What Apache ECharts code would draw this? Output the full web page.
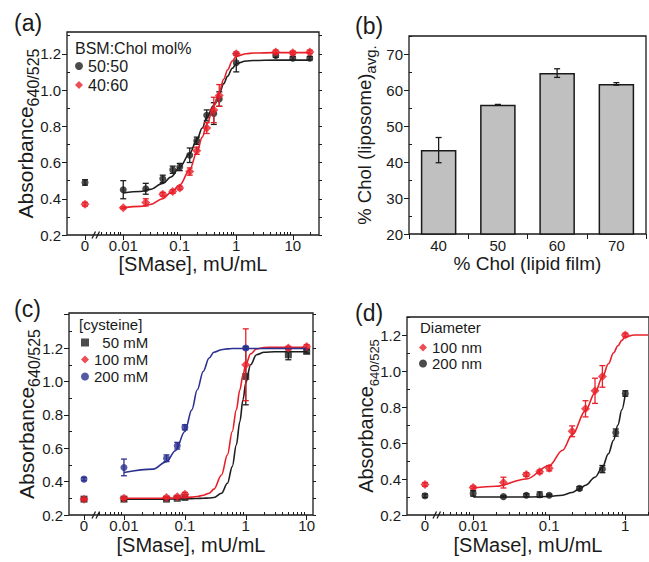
<!DOCTYPE html>
<html>
<head>
<meta charset="utf-8">
<script src="https://cdn.jsdelivr.net/npm/echarts@6/dist/echarts.min.js"></script>
<style>
  html, body { margin: 0; padding: 0; background: #fff; }
  #chart { width: 649px; height: 562px; }
</style>
</head>
<body>
<div id="chart"></div>
<script>
// ---------- data ----------
// (a) BSM:Chol mol%
const concA = [0.01, 0.025, 0.05, 0.075, 0.1, 0.15, 0.2, 0.3, 0.4, 0.5, 1, 5, 10, 20];
const absA5050 = [0.45, 0.455, 0.51, 0.56, 0.575, 0.64, 0.72, 0.86, 0.87, 0.95, 1.15, 1.19, 1.175, 1.175];
const errA5050 = [0.05, 0.03, 0.02, 0.02, 0.02, 0.04, 0.02, 0.03, 0.06, 0.04, 0.05, 0.01, 0.01, 0.01];
const absA4060 = [0.35, 0.38, 0.425, 0.44, 0.46, 0.55, 0.665, 0.79, 0.89, 0.97, 1.2, 1.21, 1.205, 1.21];
const errA4060 = [0.005, 0.02, 0.01, 0.01, 0.01, 0.02, 0.02, 0.03, 0.07, 0.06, 0.01, 0.01, 0.01, 0.01];
const zeroA5050 = [0.49, 0.015];
const zeroA4060 = [0.37, 0.01];
const fitConcA = [0.01, 0.02, 0.03, 0.05, 0.07, 0.1, 0.15, 0.2, 0.25, 0.3, 0.4, 0.5, 0.6, 0.7, 0.85, 1, 1.5, 2, 5, 20];
const fitA5050 = [0.432, 0.44, 0.452, 0.485, 0.52, 0.575, 0.65, 0.725, 0.79, 0.85, 0.915, 0.98, 1.035, 1.075, 1.12, 1.145, 1.16, 1.163, 1.165, 1.165];
const fitA4060 = [0.35, 0.358, 0.368, 0.40, 0.435, 0.476, 0.56, 0.655, 0.74, 0.81, 0.91, 0.99, 1.06, 1.11, 1.16, 1.185, 1.2, 1.204, 1.206, 1.206];

// (b) bars
const cholFilm = ['40', '50', '60', '70'];
const cholLipo = [43.3, 55.9, 64.7, 61.7];
const cholErr = [3.5, 0.1, 1.2, 0.35];

// (c) cysteine
const concC = [0.01, 0.05, 0.075, 0.1, 1, 5, 10];
const absC50 = [0.295, 0.295, 0.30, 0.305, 1.03, 1.16, 1.18];
const errC50 = [0.01, 0.005, 0.005, 0.005, 0.17, 0.03, 0.01];
const absC100 = [0.30, 0.305, 0.31, 0.325, 1.10, 1.20, 1.21];
const errC100 = [0.005, 0.005, 0.005, 0.01, 0.215, 0.01, 0.01];
const concC200 = [0.01, 0.05, 0.075, 0.1, 1];
const absC200 = [0.485, 0.54, 0.615, 0.725, 1.2];
const errC200 = [0.05, 0.02, 0.02, 0.015, 0.01];
const zeroC50 = [0.295, 0.01];
const zeroC100 = [0.295, 0.005];
const zeroC200 = [0.415, 0.01];
const fitConcC = [0.01, 0.03, 0.05, 0.07, 0.1, 0.13, 0.16, 0.2, 0.25, 0.3, 0.4, 0.5, 0.6, 0.7, 0.8, 0.9, 1, 1.2, 1.5, 2, 3, 10];
const fitC50 = [0.295, 0.295, 0.295, 0.296, 0.297, 0.298, 0.299, 0.300, 0.302, 0.305, 0.33, 0.39, 0.49, 0.62, 0.76, 0.89, 0.99, 1.10, 1.16, 1.175, 1.178, 1.178];
const fitC100 = [0.300, 0.300, 0.301, 0.302, 0.304, 0.307, 0.311, 0.318, 0.33, 0.355, 0.44, 0.56, 0.70, 0.83, 0.95, 1.04, 1.10, 1.165, 1.195, 1.203, 1.205, 1.205];
const fitC200 = [0.455, 0.475, 0.52, 0.585, 0.70, 0.83, 0.95, 1.06, 1.14, 1.175, 1.19, 1.195, 1.197, 1.197, 1.197, 1.197, 1.197, 1.197, 1.197, 1.197, 1.197, 1.197];

// (d) diameter
const concD100 = [0.01, 0.025, 0.05, 0.075, 0.1, 0.2, 0.3, 0.4, 0.5, 1];
const absD100 = [0.353, 0.38, 0.425, 0.44, 0.46, 0.665, 0.79, 0.89, 0.97, 1.2];
const errD100 = [0.008, 0.03, 0.01, 0.01, 0.015, 0.03, 0.045, 0.07, 0.06, 0.01];
const concD200 = [0.01, 0.025, 0.05, 0.075, 0.1, 0.25, 0.5, 0.75, 1];
const absD200 = [0.32, 0.302, 0.31, 0.313, 0.31, 0.348, 0.455, 0.658, 0.875];
const errD200 = [0.015, 0.005, 0.008, 0.015, 0.005, 0.01, 0.02, 0.02, 0.015];
const zeroD100 = [0.37, 0.01];
const zeroD200 = [0.307, 0.01];
const fitConcD100 = [0.01, 0.02, 0.05, 0.1, 0.15, 0.2, 0.3, 0.4, 0.5, 0.6, 0.7, 0.8, 0.9, 1, 1.3, 1.6, 2];
const fitD100 = [0.35, 0.36, 0.40, 0.475, 0.56, 0.645, 0.78, 0.88, 0.965, 1.04, 1.10, 1.14, 1.17, 1.19, 1.2, 1.2, 1.2];
const fitConcD200 = [0.01, 0.05, 0.1, 0.15, 0.2, 0.25, 0.3, 0.4, 0.5, 0.6, 0.7, 0.8, 0.9, 1];
const fitD200 = [0.30, 0.30, 0.303, 0.31, 0.325, 0.345, 0.365, 0.41, 0.465, 0.54, 0.615, 0.70, 0.785, 0.873];

// tick labels
const logTicks = [0.01, 0.1, 1, 10];
const absTicks = [0.2, 0.4, 0.6, 0.8, 1.0, 1.2];
const barTicks = [20, 30, 40, 50, 60, 70];

// ---------- helpers ----------
const FONT = '"Liberation Sans", Arial, sans-serif';
const INK = '#1a1a1a';
const RED = '#e8202a';
const BLACK = '#1e1e1e';
const BLUE = '#2b3190';

const grid = [], xAxis = [], yAxis = [], series = [], title = [], legend = [], graphic = [];
const push = (arr, o) => { arr.push(o); return arr.length - 1; };

const hidden = () => ({
  axisLine: { show: false, onZero: false },
  axisTick: { show: false },
  axisLabel: { show: false },
  splitLine: { show: false }
});
const ticks = (values, len, inside) => ({
  show: true, customValues: values, length: len, inside: inside,
  lineStyle: { color: INK, width: 1 }
});
const lbl = (values, fmt, margin) => ({
  show: true, customValues: values, fontSize: 15, lineHeight: 12, color: INK, fontFamily: FONT,
  margin: margin || 4, formatter: fmt
});
const subRich = (main, sub) => ({
  m: { fontSize: main, lineHeight: main + 5, verticalAlign: 'top', fontFamily: FONT, color: INK },
  s: { fontSize: sub, lineHeight: sub + 2, verticalAlign: 'bottom', fontFamily: FONT, color: INK }
});
const fmtNum = v => String(+(+v).toPrecision(3));

function range(a, b, step) {
  const out = [];
  for (let v = a; v <= b + 1e-9; v += step) out.push(+v.toFixed(3));
  return out;
}
function logMinor(min, max) {
  const out = [];
  for (let d = -3; d <= 2; d++) {
    for (let k = 2; k <= 9; k++) {
      const v = +(k * Math.pow(10, d)).toPrecision(3);
      if (v > min && v < max) out.push(v);
    }
  }
  return out;
}

function frame(box, xName, xSize, xGap, yName, rich, yGap) {
  const g = push(grid, {
    left: box.l, top: box.t, width: box.r - box.l, height: box.b - box.t,
    show: true, borderColor: INK, borderWidth: 1.3, backgroundColor: 'rgba(0,0,0,0)'
  });
  push(xAxis, Object.assign({ gridIndex: g, type: 'value', min: 0, max: 1 }, hidden(), {
    name: xName, nameLocation: 'middle', nameGap: xGap,
    nameTextStyle: { fontSize: xSize, lineHeight: 16, color: INK, fontFamily: FONT }
  }));
  push(yAxis, Object.assign({ gridIndex: g, type: 'value', min: 0, max: 1 }, hidden(), {
    name: yName, nameLocation: 'middle', nameGap: yGap, nameRotate: 90,
    nameTextStyle: { color: INK, fontFamily: FONT, rich }
  }));
  return g;
}

function logPanel(p) {
  const { l, t, r, b } = p.box;
  frame(p.box, '[SMase], mU/mL', 20, p.xGap, '{m|Absorbance}{s|640/525}', subRich(p.yFont[0], p.yFont[1]), p.yGap);
  const yMajor = range(0.2, p.yMax, 0.2);
  const yMinor = range(0.3, p.yMax, 0.2);
  const yAll = range(0.2, p.yMax, 0.1);
  // zero section
  const gz = push(grid, { left: l, top: t, width: p.split - l, height: b - t });
  const zx = push(xAxis, Object.assign({ gridIndex: gz, type: 'value', min: p.zero[0], max: p.zero[1], position: 'bottom' }, hidden(), {
    axisTick: ticks([0], 5, false), axisLabel: lbl([0], () => '0')
  }));
  const zy = push(yAxis, Object.assign({ gridIndex: gz, type: 'value', min: 0.2, max: p.yMax, position: 'left' }, hidden(), {
    axisTick: ticks(yMajor, 5, false), axisLabel: lbl(absTicks, v => (+v).toFixed(1), 6)
  }));
  push(yAxis, Object.assign({ gridIndex: gz, type: 'value', min: 0.2, max: p.yMax, position: 'left' }, hidden(), {
    axisTick: ticks(yMinor, 3, true)
  }));
  // log section
  const gl = push(grid, { left: p.split, top: t, width: r - p.split, height: b - t });
  const lx = push(xAxis, Object.assign({ gridIndex: gl, type: 'log', min: p.x[0], max: p.x[1], position: 'bottom' }, hidden(), {
    axisTick: ticks(p.xTicks, 5, false), axisLabel: lbl(p.xTicks, fmtNum)
  }));
  push(xAxis, Object.assign({ gridIndex: gl, type: 'log', min: p.x[0], max: p.x[1], position: 'bottom' }, hidden(), {
    axisTick: ticks(logMinor(p.x[0], p.x[1]), 3, true)
  }));
  const ly = push(yAxis, Object.assign({ gridIndex: gl, type: 'value', min: 0.2, max: p.yMax, position: 'right' }, hidden(), {
    axisTick: ticks(yAll, 3, false)
  }));
  // axis break
  graphic.push({ type: 'line', shape: { x1: p.split - 5, y1: b + 3.5, x2: p.split - 1.5, y2: b - 3.5 }, style: { stroke: INK, lineWidth: 1.2 } });
  graphic.push({ type: 'line', shape: { x1: p.split - 1, y1: b + 3.5, x2: p.split + 2.5, y2: b - 3.5 }, style: { stroke: INK, lineWidth: 1.2 } });
  return { zx, zy, lx, ly };
}

function errorBar(params, api) {
  const x = api.value(0), y = api.value(1), e = api.value(2);
  const hi = api.coord([x, y + e]), lo = api.coord([x, y - e]);
  const w = 3;
  const st = { stroke: api.visual('color'), lineWidth: 1.3 };
  return {
    type: 'group', children: [
      { type: 'line', shape: { x1: hi[0], y1: hi[1], x2: lo[0], y2: lo[1] }, style: st },
      { type: 'line', shape: { x1: hi[0] - w, y1: hi[1], x2: hi[0] + w, y2: hi[1] }, style: st },
      { type: 'line', shape: { x1: lo[0] - w, y1: lo[1], x2: lo[0] + w, y2: lo[1] }, style: st }
    ]
  };
}

function group(ax, g) {
  const pts = g.conc.map((c, i) => [c, g.vals[i]]);
  const errs = g.conc.map((c, i) => [c, g.vals[i], g.errs[i]]);
  const common = { itemStyle: { color: g.color }, z: g.z, silent: true };
  if (g.fitConc) {
    series.push(Object.assign({
      type: 'line', name: g.name + ' fit', xAxisIndex: ax.lx, yAxisIndex: ax.ly,
      data: g.fitConc.map((c, i) => [c, g.fit[i]]), showSymbol: false, smooth: 0.35,
      smoothMonotone: 'x', lineStyle: { color: g.color, width: 1.6 }
    }, common));
  }
  series.push(Object.assign({
    type: 'custom', name: g.name + ' err', xAxisIndex: ax.lx, yAxisIndex: ax.ly,
    renderItem: errorBar, encode: { x: 0, y: 1 }, data: errs
  }, common));
  series.push(Object.assign({
    type: 'scatter', name: g.name, xAxisIndex: ax.lx, yAxisIndex: ax.ly,
    data: pts, symbol: g.symbol, symbolSize: g.size
  }, common));
  series.push(Object.assign({
    type: 'custom', name: g.name + ' err0', xAxisIndex: ax.zx, yAxisIndex: ax.zy,
    renderItem: errorBar, encode: { x: 0, y: 1 }, data: [[0, g.zero[0], g.zero[1]]]
  }, common));
  series.push(Object.assign({
    type: 'scatter', name: g.name, xAxisIndex: ax.zx, yAxisIndex: ax.zy,
    data: [[0, g.zero[0]]], symbol: g.symbol, symbolSize: g.size
  }, common));
}

const panelTitle = (text, left, top) => title.push({
  text, left, top, padding: 0,
  textStyle: { fontSize: 23, fontWeight: 'normal', color: INK, fontFamily: FONT }
});
const headTitle = (text, left, top, size) => title.push({
  text, left, top, padding: 0,
  textStyle: { fontSize: size, fontWeight: 'normal', color: INK, fontFamily: FONT }
});
const addLegend = (names, left, top, size, gap, fmt) => legend.push({
  data: names, orient: 'vertical', left, top, padding: 0, itemGap: gap,
  itemWidth: 8, itemHeight: 8, selectedMode: false, formatter: fmt,
  textStyle: { fontSize: size, lineHeight: size, color: INK, fontFamily: FONT }
});

// ---------- panel (a) ----------
const axA = logPanel({
  box: { l: 67, t: 32, r: 319, b: 235 }, split: 97, zero: [-0.6, 0.4],
  x: [0.00343, 29.1], xTicks: logTicks, yMax: 1.32, xGap: 21, yGap: 26, yFont: [21, 16]
});
group(axA, { name: '50:50', color: BLACK, symbol: 'circle', size: 7, z: 3, conc: concA, vals: absA5050, errs: errA5050, zero: zeroA5050, fitConc: fitConcA, fit: fitA5050 });
group(axA, { name: '40:60', color: RED, symbol: 'diamond', size: 9, z: 4, conc: concA, vals: absA4060, errs: errA4060, zero: zeroA4060, fitConc: fitConcA, fit: fitA4060 });
panelTitle('(a)', 14, 11);
headTitle('BSM:Chol mol%', 75, 40, 16);
addLegend(['50:50', '40:60'], 75, 58, 16, 3);

// ---------- panel (b) ----------
const gb = push(grid, { left: 409, top: 36, width: 237, height: 198, show: true, borderColor: INK, borderWidth: 1.3, backgroundColor: 'rgba(0,0,0,0)' });
const bx = push(xAxis, Object.assign({ gridIndex: gb, type: 'category', data: cholFilm }, hidden(), {
  axisTick: { show: true, alignWithLabel: false, length: 5, lineStyle: { color: INK, width: 1 } },
  axisLabel: { show: true, fontSize: 15, lineHeight: 12, color: INK, fontFamily: FONT, margin: 5 },
  name: '% Chol (lipid film)', nameLocation: 'middle', nameGap: 21,
  nameTextStyle: { fontSize: 19, lineHeight: 16, color: INK, fontFamily: FONT }
}));
const by = push(yAxis, Object.assign({ gridIndex: gb, type: 'value', min: 20, max: 75, position: 'left' }, hidden(), {
  axisTick: ticks(barTicks, 5, false), axisLabel: lbl(barTicks, undefined, 6),
  name: '{m|% Chol (liposome)}{s|avg.}', nameLocation: 'middle', nameGap: 31, nameRotate: 90,
  nameTextStyle: { color: INK, fontFamily: FONT, rich: subRich(18.5, 15) }
}));
push(yAxis, Object.assign({ gridIndex: gb, type: 'value', min: 20, max: 75, position: 'left' }, hidden(), {
  axisTick: ticks([25, 35, 45, 55, 65, 75], 3, true)
}));
series.push({
  type: 'bar', name: 'liposome', xAxisIndex: bx, yAxisIndex: by, data: cholLipo, barWidth: '60%',
  itemStyle: { color: '#c0c0c0', borderColor: INK, borderWidth: 1.5 }, silent: true
});
series.push({
  type: 'custom', name: 'liposome err', xAxisIndex: bx, yAxisIndex: by, renderItem: errorBar,
  encode: { x: 0, y: 1 }, data: cholFilm.map((c, i) => [c, cholLipo[i], cholErr[i]]),
  itemStyle: { color: INK }, z: 5, silent: true
});
panelTitle('(b)', 355, 14);

// ---------- panel (c) ----------
const axC = logPanel({
  box: { l: 69, t: 313, r: 313, b: 515 }, split: 97, zero: [-0.536, 0.464],
  x: [0.00361, 12.7], xTicks: logTicks, yMax: 1.41, xGap: 22, yGap: 27, yFont: [21, 16]
});
group(axC, { name: '50 mM', color: BLACK, symbol: 'rect', size: 7, z: 3, conc: concC, vals: absC50, errs: errC50, zero: zeroC50, fitConc: fitConcC, fit: fitC50 });
group(axC, { name: '100 mM', color: RED, symbol: 'diamond', size: 9, z: 4, conc: concC, vals: absC100, errs: errC100, zero: zeroC100, fitConc: fitConcC, fit: fitC100 });
group(axC, { name: '200 mM', color: BLUE, symbol: 'circle', size: 7, z: 5, conc: concC200, vals: absC200, errs: errC200, zero: zeroC200, fitConc: fitConcC, fit: fitC200 });
panelTitle('(c)', 14, 297);
headTitle('[cysteine]', 79, 317, 15);
addLegend(['50 mM', '100 mM', '200 mM'], 81, 335, 15, 2, n => (n.length < 6 ? '\u2007' + n : n));

// ---------- panel (d) ----------
const axD = logPanel({
  box: { l: 407, t: 317, r: 660, b: 515 }, split: 438, zero: [-0.58, 0.42],
  x: [0.00345, 2.05], xTicks: [0.01, 0.1, 1], yMax: 1.3, xGap: 22, yGap: 26, yFont: [20, 13]
});
group(axD, { name: '100 nm', color: RED, symbol: 'diamond', size: 9, z: 3, conc: concD100, vals: absD100, errs: errD100, zero: zeroD100, fitConc: fitConcD100, fit: fitD100 });
group(axD, { name: '200 nm', color: BLACK, symbol: 'circle', size: 7, z: 4, conc: concD200, vals: absD200, errs: errD200, zero: zeroD200, fitConc: fitConcD200, fit: fitD200 });
panelTitle('(d)', 355, 301);
headTitle('Diameter', 420, 320, 15);
addLegend(['100 nm', '200 nm'], 419, 340, 15, 1);

// ---------- chart ----------
const chart = echarts.init(document.getElementById('chart'), null, { renderer: 'svg' });
chart.setOption({
  animation: false,
  backgroundColor: '#fff',
  textStyle: { fontFamily: FONT },
  title, legend, grid, xAxis, yAxis, series, graphic
});
</script>
</body>
</html>
